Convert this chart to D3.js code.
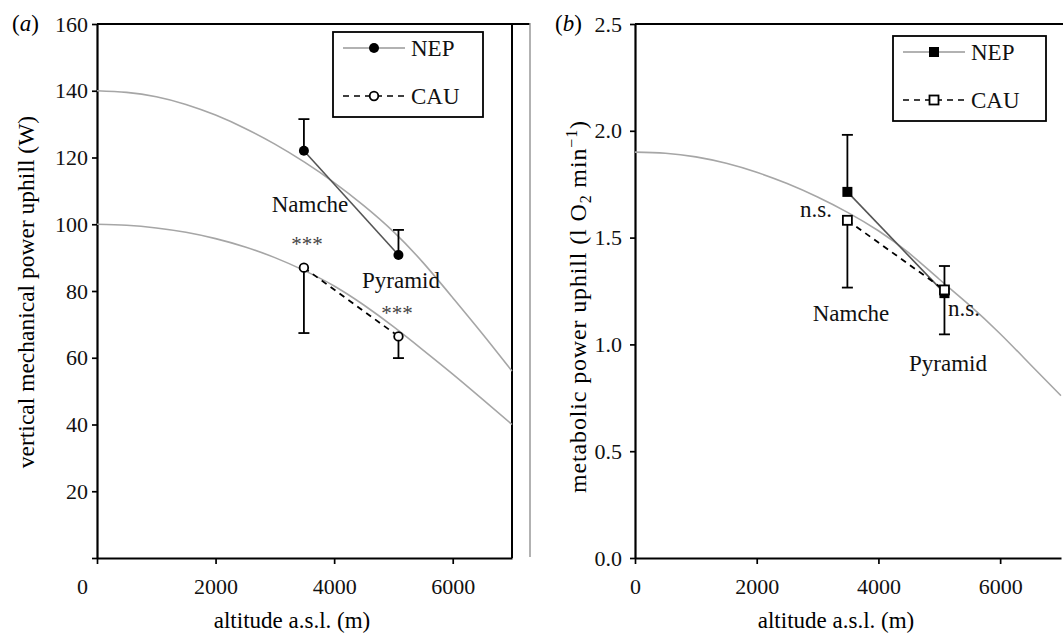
<!DOCTYPE html>
<html>
<head>
<meta charset="utf-8">
<script src="https://cdn.jsdelivr.net/npm/d3@7"></script>
<style>
  html, body { margin: 0; padding: 0; background: #fff; }
  svg { display: block; font-family: "Liberation Serif", "Times New Roman", serif; }
</style>
</head>
<body>
<svg id="chart" width="1063" height="633"></svg>
<script>
// ---------- data ----------
const curveAltitudes = [0, 500, 1000, 1500, 2000, 2500, 3000, 3500, 4000, 4500, 5000, 5500, 6000, 6500, 7000];
const nepModelPower = [140, 139.5, 138.2, 135.9, 132.7, 128.7, 124.0, 118.6, 112.5, 105.6, 97.8, 88.5, 78, 67.2, 56];
const cauModelPower = [100, 99.7, 98.9, 97.6, 95.7, 93.2, 90.0, 86.1, 81.5, 75.8, 69.3, 62.3, 55.1, 47.6, 40];
const modelMetabolic = [1.90, 1.895, 1.878, 1.848, 1.806, 1.753, 1.69, 1.617, 1.532, 1.428, 1.305, 1.183, 1.05, 0.905, 0.76];

const sites = ["Namche", "Pyramid"];
const siteAltitude = [3490, 5085];

const nepPower = [122, 90.8];
const nepPowerSD = [9.5, 7.5];     // drawn upward
const cauPower = [87.0, 66.4];
const cauPowerSD = [19.6, 6.5];    // drawn downward

const nepMetabolic = [1.714, 1.24];
const nepMetabolicSD = [0.267, 0.127];
const cauMetabolic = [1.581, 1.255];
const cauMetabolicSD = [0.315, 0.208];

const xTicks = [0, 2000, 4000, 6000];
const yTicksA = [0, 20, 40, 60, 80, 100, 120, 140, 160];
const yTicksB = [0, 0.5, 1.0, 1.5, 2.0, 2.5];
const legendLabels = ["NEP", "CAU"];

// ---------- setup ----------
const svg = d3.select("#chart");
const tickFont = 22, textFont = 23;
const grayCurve = "#a6a6a6";

const xA = d3.scaleLinear().domain([0, 7000]).range([97, 512]);
const yA = d3.scaleLinear().domain([0, 160]).range([558, 24]);
const xB = d3.scaleLinear().domain([0, 7000]).range([635, 1061]);
const yB = d3.scaleLinear().domain([0, 2.5]).range([558, 24]);

function styleAxis(g) {
  g.selectAll("path.domain").attr("stroke", "#000").attr("stroke-width", 2.2);
  g.selectAll(".tick line").attr("stroke", "#000").attr("stroke-width", 1.7);
  g.selectAll(".tick text").attr("font-size", tickFont).attr("fill", "#111")
    .attr("font-family", "Liberation Serif, serif");
}

// ---------- panel frames ----------
svg.append("line").attr("x1", 97).attr("x2", 530).attr("y1", 24).attr("y2", 24).attr("stroke", "#000").attr("stroke-width", 2.2);
svg.append("line").attr("x1", 512).attr("x2", 512).attr("y1", 24).attr("y2", 558).attr("stroke", "#000").attr("stroke-width", 2);
svg.append("line").attr("x1", 530).attr("x2", 530).attr("y1", 23).attr("y2", 557).attr("stroke", "#999").attr("stroke-width", 1.5);
svg.append("line").attr("x1", 635).attr("x2", 1063).attr("y1", 24).attr("y2", 24).attr("stroke", "#000").attr("stroke-width", 2.2);

// ---------- axes ----------
const axAy = svg.append("g").attr("transform", "translate(97,0)")
  .call(d3.axisLeft(yA).tickValues(yTicksA).tickSize(5).tickPadding(4).tickSizeOuter(0)
    .tickFormat(d => d === 0 ? "" : d));
styleAxis(axAy);
const axAx = svg.append("g").attr("transform", "translate(0,558)")
  .call(d3.axisBottom(xA).tickValues(xTicks).tickSize(6).tickPadding(14).tickSizeOuter(0)
    .tickFormat(d3.format("d")));
styleAxis(axAx);
axAx.selectAll(".tick text").filter(d => d === 0).attr("dx", -15);

const axBy = svg.append("g").attr("transform", "translate(635,0)")
  .call(d3.axisLeft(yB).tickValues(yTicksB).tickSize(5).tickPadding(8).tickSizeOuter(0)
    .tickFormat(d3.format(".1f")));
styleAxis(axBy);
const axBx = svg.append("g").attr("transform", "translate(0,558)")
  .call(d3.axisBottom(xB).tickValues(xTicks).tickSize(6).tickPadding(14).tickSizeOuter(0)
    .tickFormat(d3.format("d")));
styleAxis(axBx);

// ---------- axis titles ----------
svg.append("text").attr("x", 292).attr("y", 628).attr("text-anchor", "middle")
  .attr("font-size", textFont).text("altitude a.s.l. (m)");
svg.append("text").attr("x", 836).attr("y", 628).attr("text-anchor", "middle")
  .attr("font-size", textFont).text("altitude a.s.l. (m)");

svg.append("text").attr("transform", "translate(34,292) rotate(-90)").attr("text-anchor", "middle")
  .attr("font-size", 23.5).text("vertical mechanical power uphill (W)");

const tb = svg.append("text").attr("transform", "translate(586,307) rotate(-90)").attr("text-anchor", "middle")
  .attr("font-size", 24).attr("textLength", 372).attr("lengthAdjust", "spacing");
tb.append("tspan").text("metabolic power uphill (l O");
tb.append("tspan").attr("font-size", 16).attr("dy", 5).text("2");
tb.append("tspan").attr("dy", -5).text(" min");
tb.append("tspan").attr("font-size", 16).attr("dy", -9).text("−1");
tb.append("tspan").attr("dy", 9).text(")");

// panel letters
const la = svg.append("text").attr("x", 12).attr("y", 31).attr("font-size", textFont);
la.append("tspan").text("(");
la.append("tspan").attr("font-style", "italic").text("a");
la.append("tspan").text(")");
const lb = svg.append("text").attr("x", 555).attr("y", 31).attr("font-size", textFont);
lb.append("tspan").text("(");
lb.append("tspan").attr("font-style", "italic").text("b");
lb.append("tspan").text(")");

// ---------- model curves ----------
function curveLine(x, y, vals) {
  return d3.line().x((d, i) => x(curveAltitudes[i])).y(d => y(d)).curve(d3.curveNatural)(vals);
}
svg.append("path").attr("d", curveLine(xA, yA, nepModelPower)).attr("fill", "none").attr("stroke", grayCurve).attr("stroke-width", 1.6);
svg.append("path").attr("d", curveLine(xA, yA, cauModelPower)).attr("fill", "none").attr("stroke", grayCurve).attr("stroke-width", 1.6);
svg.append("path").attr("d", curveLine(xB, yB, modelMetabolic)).attr("fill", "none").attr("stroke", grayCurve).attr("stroke-width", 1.6);

// ---------- connecting lines ----------
function seriesLine(x, y, vals) {
  return d3.line().x((d, i) => x(siteAltitude[i])).y(d => y(d))(vals);
}
svg.append("path").attr("d", seriesLine(xA, yA, nepPower)).attr("fill", "none").attr("stroke", "#555").attr("stroke-width", 1.6);
svg.append("path").attr("d", seriesLine(xA, yA, cauPower)).attr("fill", "none").attr("stroke", "#000").attr("stroke-width", 1.8).attr("stroke-dasharray", "6,5");
svg.append("path").attr("d", seriesLine(xB, yB, nepMetabolic)).attr("fill", "none").attr("stroke", "#555").attr("stroke-width", 1.6);
svg.append("path").attr("d", seriesLine(xB, yB, cauMetabolic)).attr("fill", "none").attr("stroke", "#000").attr("stroke-width", 1.8).attr("stroke-dasharray", "6,5");

// ---------- error bars ----------
function errorBars(x, y, vals, sds, dir) {
  vals.forEach((v, i) => {
    const cx = x(siteAltitude[i]);
    const end = y(v + dir * sds[i]);
    svg.append("line").attr("x1", cx).attr("x2", cx).attr("y1", y(v)).attr("y2", end).attr("stroke", "#000").attr("stroke-width", 1.8);
    svg.append("line").attr("x1", cx - 5.5).attr("x2", cx + 5.5).attr("y1", end).attr("y2", end).attr("stroke", "#000").attr("stroke-width", 1.8);
  });
}
errorBars(xA, yA, nepPower, nepPowerSD, 1);
errorBars(xA, yA, cauPower, cauPowerSD, -1);
errorBars(xB, yB, nepMetabolic, nepMetabolicSD, 1);
errorBars(xB, yB, cauMetabolic, cauMetabolicSD, -1);

// ---------- markers ----------
function filledCircle(cx, cy) { svg.append("circle").attr("cx", cx).attr("cy", cy).attr("r", 5).attr("fill", "#000"); }
function openCircle(cx, cy) { svg.append("circle").attr("cx", cx).attr("cy", cy).attr("r", 4.3).attr("fill", "#fff").attr("stroke", "#000").attr("stroke-width", 1.8); }
function filledSquare(cx, cy) { svg.append("rect").attr("x", cx - 5).attr("y", cy - 5).attr("width", 10).attr("height", 10).attr("fill", "#000"); }
function openSquare(cx, cy) { svg.append("rect").attr("x", cx - 4.5).attr("y", cy - 4.5).attr("width", 9).attr("height", 9).attr("fill", "#fff").attr("stroke", "#000").attr("stroke-width", 1.8); }

nepPower.forEach((v, i) => filledCircle(xA(siteAltitude[i]), yA(v)));
cauPower.forEach((v, i) => openCircle(xA(siteAltitude[i]), yA(v)));
nepMetabolic.forEach((v, i) => filledSquare(xB(siteAltitude[i]), yB(v)));
cauMetabolic.forEach((v, i) => openSquare(xB(siteAltitude[i]), yB(v)));

// ---------- annotations ----------
function label(x, y, t, size, fill) {
  svg.append("text").attr("x", x).attr("y", y).attr("text-anchor", "middle").attr("font-size", size || textFont).attr("fill", fill || "#111").text(t);
}
label(310, 212, sites[0]);
label(307, 251, "***", 21, "#444");
label(401, 288, sites[1]);
label(397, 320, "***", 21, "#444");

label(816, 217, "n.s.");
label(851, 321, sites[0]);
svg.append("text").attr("x", 948).attr("y", 316).attr("font-size", textFont).attr("fill", "#111").text("n.s.");
label(948, 371, sites[1]);

// ---------- legends ----------
function legend(x0, y0, w, h, markerFns) {
  svg.append("rect").attr("x", x0).attr("y", y0).attr("width", w).attr("height", h).attr("fill", "#fff").attr("stroke", "#000").attr("stroke-width", 1.8);
  const rows = [y0 + 16, y0 + 64];
  svg.append("line").attr("x1", x0 + 10).attr("x2", x0 + 72).attr("y1", rows[0]).attr("y2", rows[0]).attr("stroke", "#999").attr("stroke-width", 1.6);
  markerFns[0](x0 + 41, rows[0]);
  svg.append("text").attr("x", x0 + 78).attr("y", rows[0] + 8).attr("font-size", textFont).attr("fill", "#111").text(legendLabels[0]);
  svg.append("line").attr("x1", x0 + 10).attr("x2", x0 + 72).attr("y1", rows[1]).attr("y2", rows[1]).attr("stroke", "#000").attr("stroke-width", 1.6).attr("stroke-dasharray", "6,5");
  markerFns[1](x0 + 41, rows[1]);
  svg.append("text").attr("x", x0 + 78).attr("y", rows[1] + 8).attr("font-size", textFont).attr("fill", "#111").text(legendLabels[1]);
}
legend(333, 32, 150, 85, [filledCircle, openCircle]);
legend(893, 36, 153, 85, [filledSquare, openSquare]);
</script>
</body>
</html>
